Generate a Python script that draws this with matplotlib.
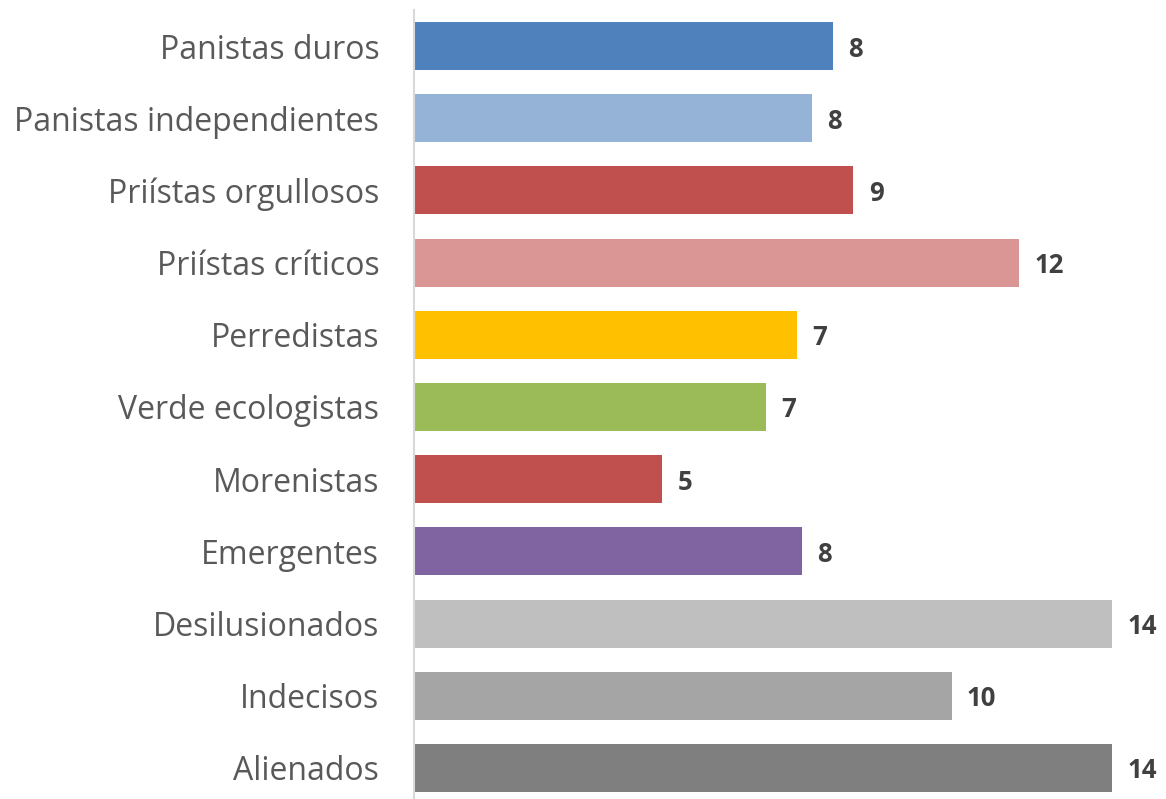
import numpy as np
import matplotlib.pyplot as plt

# datos
categorias = ["Panistas duros", "Panistas independientes", "Priístas orgullosos",
              "Priístas críticos", "Perredistas", "Verde ecologistas", "Morenistas",
              "Emergentes", "Desilusionados", "Indecisos", "Alienados"]
valores = [8.1, 7.7, 8.5, 11.7, 7.4, 6.8, 4.8, 7.5, 13.5, 10.4, 13.5]
etiquetas = ["8", "8", "9", "12", "7", "7", "5", "8", "14", "10", "14"]
colores = ["#4f81bd", "#95b3d7", "#c0504d", "#d99694", "#ffc000", "#9bbb59",
           "#c0504d", "#8064a2", "#bfbfbf", "#a5a5a5", "#7f7f7f"]

plt.rcParams['font.family'] = ['Open Sans', 'DejaVu Sans']

fig = plt.figure(figsize=(11.66, 7.99), dpi=100)
ax = fig.add_axes([414 / 1166, -5 / 799, 752 / 1166, 794 / 799])

y = np.arange(len(categorias))
bars = ax.barh(y, valores, height=0.665, color=colores)
ax.set_ylim(len(categorias) - 0.5, -0.5)
ax.set_xlim(0, 752 / 51.7)

for b, lab in zip(bars, etiquetas):
    ax.annotate(lab, (b.get_width(), b.get_y() + b.get_height() / 2),
                xytext=(11, 0), textcoords='offset points', va='center_baseline',
                ha='left', fontsize=18.5, fontweight='bold', color='#404040')

ax.set_yticks(y)
ax.set_yticklabels(categorias, fontsize=23, color='#595959')
ax.tick_params(axis='y', length=0, pad=25)
ax.set_xticks([])

for s in ['top', 'right', 'bottom']:
    ax.spines[s].set_visible(False)
ax.spines['left'].set_color('#d9d9d9')
ax.spines['left'].set_linewidth(1.5)

fig.savefig("out.png", dpi=100)
